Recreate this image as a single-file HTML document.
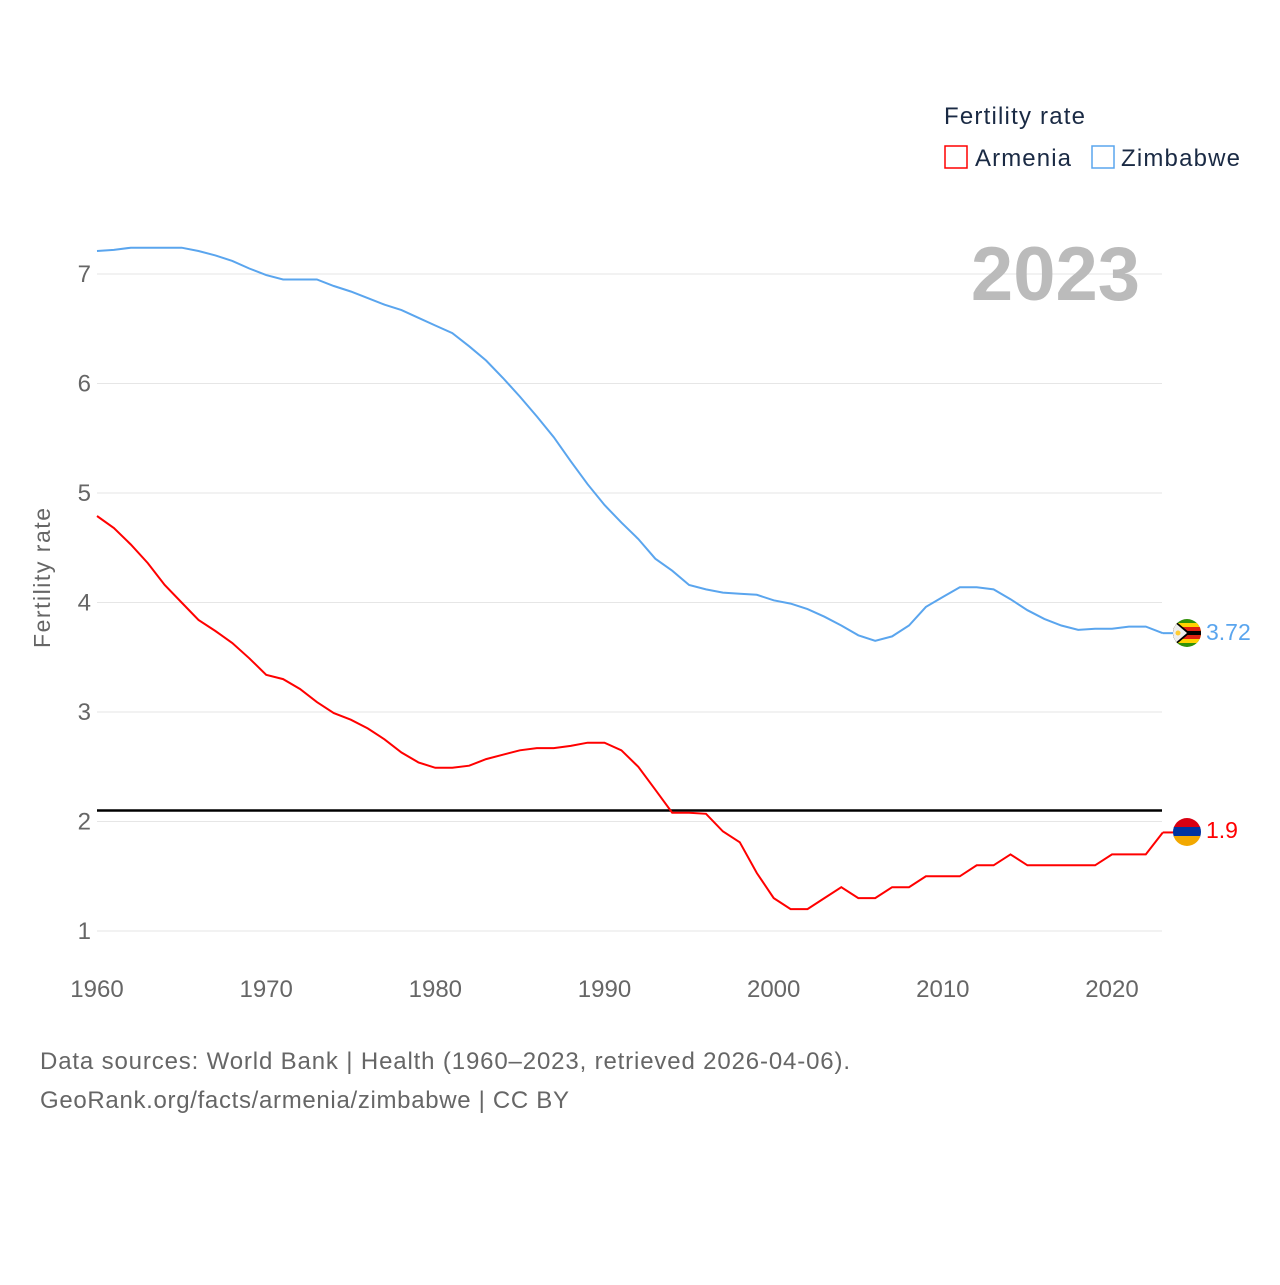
<!DOCTYPE html>
<html><head><meta charset="utf-8"><style>
body{margin:0;background:#fff;font-family:"Liberation Sans",sans-serif}
</style></head><body>
<svg width="1280" height="1280" viewBox="0 0 1280 1280" xmlns="http://www.w3.org/2000/svg">
<defs>
<clipPath id="cz"><circle cx="1187" cy="633" r="14"/></clipPath>
<clipPath id="ca"><circle cx="1187" cy="832" r="14"/></clipPath>
</defs>
<g id="grid"></g>
<g id="ylab"></g>
<g id="xlab"></g>
<text x="50" y="578" transform="rotate(-90 50 578)" text-anchor="middle" font-size="23" fill="#666" textLength="140">Fertility rate</text>
<text x="1140" y="300" text-anchor="end" font-size="76" font-weight="bold" fill="#bbb">2023</text>
<line id="ref" x1="97" x2="1162" stroke="#000" stroke-width="2.5"/>
<path id="pz" fill="none" stroke="#5aa5ee" stroke-width="2"/>
<path id="pa" fill="none" stroke="#f00" stroke-width="2"/>
<line id="cnz" stroke="#5aa5ee" stroke-width="2"/>
<line id="cna" stroke="#f00" stroke-width="2"/>
<g clip-path="url(#cz)">
<rect x="1173" y="619" width="28" height="28" fill="#319208"/>
<rect x="1173" y="623" width="28" height="20" fill="#ffd200"/>
<rect x="1173" y="627" width="28" height="12" fill="#de2010"/>
<rect x="1173" y="631" width="28" height="4" fill="#000"/>
<polygon points="1173,619 1190,633 1173,647" fill="#000"/>
<polygon points="1173,621 1187,633 1173,645" fill="#eee"/>
<circle cx="1178" cy="633" r="2.5" fill="#fc3"/>
</g>
<g clip-path="url(#ca)">
<rect x="1173" y="818" width="28" height="10" fill="#d90012"/>
<rect x="1173" y="827" width="28" height="10" fill="#0033a0"/>
<rect x="1173" y="836" width="28" height="10" fill="#f2a800"/>
</g>
<text id="vz" x="1206" y="640" font-size="23" fill="#5aa5ee">3.72</text>
<text id="va" x="1206" y="838" font-size="23" fill="#f00">1.9</text>
<text x="944" y="124" font-size="24" fill="#1a2a44" textLength="141">Fertility rate</text>
<g>
<rect x="945" y="146" width="22" height="22" fill="none" stroke="#f00" stroke-width="1.5"/>
<text x="975" y="166" font-size="24" fill="#1a2a44" textLength="96">Armenia</text></g>
<g>
<rect x="1092" y="146" width="22" height="22" fill="none" stroke="#5aa5ee" stroke-width="1.5"/>
<text x="1121" y="166" font-size="24" fill="#1a2a44" textLength="119">Zimbabwe</text></g>
<text x="40" y="1069" font-size="24" fill="#666" textLength="810">Data sources: World Bank | Health (1960–2023, retrieved 2026-04-06).</text>
<text x="40" y="1108" font-size="24" fill="#666" textLength="529">GeoRank.org/facts/armenia/zimbabwe | CC BY</text>
</svg>
<script>
const years=[];for(let y=1960;y<=2023;y++)years.push(y);
const zimbabwe=[7.21,7.22,7.24,7.24,7.24,7.24,7.21,7.17,7.12,7.05,6.99,6.95,6.95,6.95,6.89,6.84,6.78,6.72,6.67,6.60,6.53,6.46,6.34,6.21,6.05,5.88,5.70,5.51,5.29,5.08,4.89,4.73,4.58,4.40,4.29,4.16,4.12,4.09,4.08,4.07,4.02,3.99,3.94,3.87,3.79,3.70,3.65,3.69,3.79,3.96,4.05,4.14,4.14,4.12,4.03,3.93,3.85,3.79,3.75,3.76,3.76,3.78,3.78,3.72];
const armenia=[4.79,4.68,4.53,4.36,4.16,4.00,3.84,3.74,3.63,3.49,3.34,3.30,3.21,3.09,2.99,2.93,2.85,2.75,2.63,2.54,2.49,2.49,2.51,2.57,2.61,2.65,2.67,2.67,2.69,2.72,2.72,2.65,2.50,2.29,2.08,2.08,2.07,1.91,1.81,1.53,1.30,1.20,1.20,1.30,1.40,1.30,1.30,1.40,1.40,1.50,1.50,1.50,1.60,1.60,1.70,1.60,1.60,1.60,1.60,1.60,1.70,1.70,1.70,1.90];
const yTicks=[1,2,3,4,5,6,7];
const xTicks=[1960,1970,1980,1990,2000,2010,2020];
const replacement=2.1;
const X=y=>97+(y-1960)*(1015/60);
const Y=v=>931-(v-1)*109.5;
const NS="http://www.w3.org/2000/svg";
const g=document.getElementById('grid'),yl=document.getElementById('ylab'),xl=document.getElementById('xlab');
yTicks.forEach(t=>{
 const l=document.createElementNS(NS,'line');
 
 
 l.setAttribute('x1',97);l.setAttribute('x2',1162);l.setAttribute('y1',Y(t));l.setAttribute('y2',Y(t));
 l.setAttribute('stroke','#e6e6e6');g.appendChild(l);
 const s=document.createElementNS(NS,'text');
 
 
 s.setAttribute('x',91);s.setAttribute('y',Y(t)+8);s.setAttribute('text-anchor','end');
 s.setAttribute('font-size','24');s.setAttribute('fill','#666');s.textContent=t;yl.appendChild(s);
});
xTicks.forEach(t=>{
 const s=document.createElementNS(NS,'text');
 
 
 s.setAttribute('x',X(t));s.setAttribute('y',997);s.setAttribute('text-anchor','middle');
 s.setAttribute('font-size','24');s.setAttribute('fill','#666');s.textContent=t;xl.appendChild(s);
});
const r=document.getElementById('ref');r.setAttribute('y1',Y(replacement));r.setAttribute('y2',Y(replacement));
const path=a=>a.map((v,i)=>(i?'L':'M')+X(years[i]).toFixed(1)+','+Y(v).toFixed(1)).join('');
document.getElementById('pz').setAttribute('d',path(zimbabwe));
document.getElementById('pa').setAttribute('d',path(armenia));
const conn=(id,a)=>{const c=document.getElementById(id);const v=Y(a[a.length-1]);const x=X(years[years.length-1]);
 c.setAttribute('x1',x);c.setAttribute('x2',1174);c.setAttribute('y1',v);c.setAttribute('y2',v);};
conn('cnz',zimbabwe);conn('cna',armenia);
</script>
</body></html>
